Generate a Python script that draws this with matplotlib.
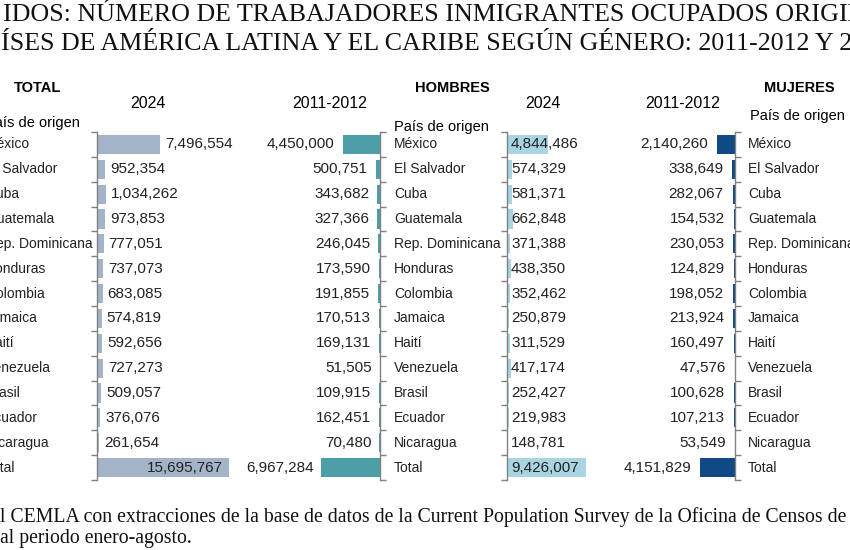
import matplotlib
matplotlib.use('Agg')
import matplotlib.pyplot as plt
import numpy as np

paises = ['México', 'El Salvador', 'Cuba', 'Guatemala', 'Rep. Dominicana', 'Honduras',
          'Colombia', 'Jamaica', 'Haití', 'Venezuela', 'Brasil', 'Ecuador', 'Nicaragua', 'Total']
total_2024 = [7496554, 952354, 1034262, 973853, 777051, 737073, 683085, 574819,
              592656, 727273, 509057, 376076, 261654, 15695767]
total_2011 = [4450000, 500751, 343682, 327366, 246045, 173590, 191855, 170513,
              169131, 51505, 109915, 162451, 70480, 6967284]
hombres_2024 = [4844486, 574329, 581371, 662848, 371388, 438350, 352462, 250879,
                311529, 417174, 252427, 219983, 148781, 9426007]
mujeres_2011 = [2140260, 338649, 282067, 154532, 230053, 124829, 198052, 213924,
                160497, 47576, 100628, 107213, 53549, 4151829]

titulo1 = 'IDOS: NÚMERO DE TRABAJADORES INMIGRANTES OCUPADOS ORIGINARIOS DE'
titulo2 = 'ÍSES DE AMÉRICA LATINA Y EL CARIBE SEGÚN GÉNERO: 2011-2012 Y 2024'
fuente1 = 'l CEMLA con extracciones de la base de datos de la Current Population Survey de la Oficina de Censos de'
fuente2 = 'al periodo enero-agosto.'

W, H = 850, 550
fig = plt.figure(figsize=(8.5, 5.5), dpi=100)
fig.patch.set_facecolor('white')
plt.rcParams['font.family'] = ['Liberation Sans', 'DejaVu Sans']

def fx(x):
    return x / W

def fy(y):
    return 1 - y / H

# pixel layout
top, bot = 132, 480
scale = 8.4e-6   # px per person
aw = 140
xmax = aw / scale
grey = '#808080'
n = len(paises)
y = np.arange(n)

def make_ax(x0, side, color, vals):
    ax = fig.add_axes([fx(x0), fy(bot), fx(aw), (bot - top) / H])
    ax.patch.set_alpha(0)
    ax.barh(y, vals, height=0.77, color=color)
    ax.set_ylim(n - 0.5, -0.5)
    if side == 'right':
        ax.set_xlim(xmax, 0)
    else:
        ax.set_xlim(0, xmax)
    for s in ['top', 'bottom', 'left', 'right']:
        ax.spines[s].set_visible(False)
    ax.spines[side].set_visible(True)
    ax.spines[side].set_color(grey)
    ax.spines[side].set_linewidth(1)
    ax.set_xticks([])
    ax.set_yticks(np.arange(-0.5, n, 1))
    ax.set_yticklabels([])
    if side == 'right':
        ax.yaxis.tick_right()
    ax.tick_params(axis='y', length=4, color=grey, width=1, direction='out')
    return ax

axA = make_ax(97, 'left', '#A3B3C8', total_2024)
axB = make_ax(380 - aw, 'right', '#4D9EA6', total_2011)
axC = make_ax(507, 'left', '#A9D5E3', hombres_2024)
axD = make_ax(735 - aw, 'right', '#0F4A85', mujeres_2011)

fs_num = 11
for i, v in enumerate(total_2024):
    if i == n - 1:
        axA.annotate(f'{v:,}', (v, i), xytext=(-6 * 0.72, 0), textcoords='offset points',
                     ha='right', va='center', fontsize=fs_num, color='#222222')
    else:
        axA.annotate(f'{v:,}', (v, i), xytext=(5 * 0.72, 0), textcoords='offset points',
                     ha='left', va='center', fontsize=fs_num, color='#222222')
for i, v in enumerate(total_2011):
    axB.annotate(f'{v:,}', (v, i), xytext=(-8 * 0.72, 0), textcoords='offset points',
                 ha='right', va='center', fontsize=fs_num, color='#222222')
for i, v in enumerate(hombres_2024):
    axC.annotate(f'{v:,}', (0, i), xytext=(4 * 0.72, 0), textcoords='offset points',
                 ha='left', va='center', fontsize=fs_num, color='#222222')
for i, v in enumerate(mujeres_2011):
    axD.annotate(f'{v:,}', (v, i), xytext=(-9 * 0.72, 0), textcoords='offset points',
                 ha='right', va='center', fontsize=fs_num, color='#222222')

# category labels (three columns)
row_h = (bot - top) / n
for xcol in [-14, 394, 748]:
    for i, p in enumerate(paises):
        fig.text(fx(xcol), fy(top + (i + 0.5) * row_h), p, ha='left', va='center',
                 fontsize=10, color='#222222')

# headers
fig.text(fx(38), fy(88), 'TOTAL', ha='center', va='center', fontsize=10.5, fontweight='bold')
fig.text(fx(452), fy(88), 'HOMBRES', ha='center', va='center', fontsize=10.5, fontweight='bold')
fig.text(fx(799), fy(88), 'MUJERES', ha='center', va='center', fontsize=10.5, fontweight='bold')
fig.text(fx(148), fy(104), '2024', ha='center', va='center', fontsize=11.5)
fig.text(fx(330), fy(104), '2011-2012', ha='center', va='center', fontsize=11.5)
fig.text(fx(543), fy(104), '2024', ha='center', va='center', fontsize=11.5)
fig.text(fx(683), fy(104), '2011-2012', ha='center', va='center', fontsize=11.5)
fig.text(fx(-15), fy(123), 'País de origen', ha='left', va='center', fontsize=10.5)
fig.text(fx(394), fy(127), 'País de origen', ha='left', va='center', fontsize=10.5)
fig.text(fx(750), fy(116), 'País de origen', ha='left', va='center', fontsize=10.5)

# title and source
fig.text(fx(3), fy(21), titulo1, ha='left', va='baseline', fontsize=18.7,
         family='Liberation Serif', color='#111111')
fig.text(fx(1), fy(50), titulo2, ha='left', va='baseline', fontsize=18.7,
         family='Liberation Serif', color='#111111')
fig.text(fx(0), fy(522), fuente1, ha='left', va='baseline', fontsize=14.2,
         family='Liberation Serif', color='#111111')
fig.text(fx(0), fy(543), fuente2, ha='left', va='baseline', fontsize=14.2,
         family='Liberation Serif', color='#111111')

fig.savefig('out.png', dpi=100)
